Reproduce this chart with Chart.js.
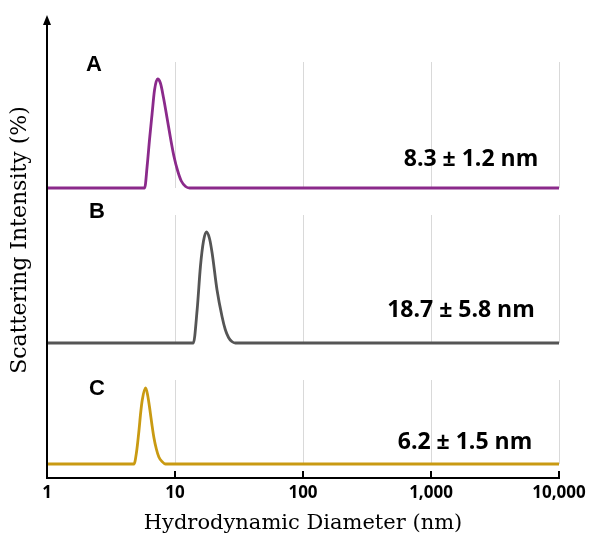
<!DOCTYPE html>
<html>
<head>
<meta charset="utf-8">
<script src="https://cdn.jsdelivr.net/npm/chart.js@4.4.1/dist/chart.umd.min.js"></script>
<style>
  html, body { margin: 0; padding: 0; background: #fff; }
  #wrap { width: 589px; height: 536px; }
</style>
</head>
<body>
<div id="wrap"><canvas id="dls"></canvas></div>
<script>
// hydrodynamic diameter (nm) and scattering intensity (%)
const sizeA = [1, 5.79, 6.06, 6.33, 6.62, 6.92, 7.31, 7.71, 8.14, 8.67, 9.22, 9.82, 10.5, 11.2, 12.1, 13.0, 10000];
const intA  = [0, 0, 4.4, 9.8, 14.8, 19.6, 21.8, 20.9, 18.0, 14.0, 10.0, 6.3, 3.4, 1.4, 0.3, 0, 0];

const sizeB = [1, 13.9, 14.9, 15.8, 16.7, 17.6, 18.6, 19.5, 21.3, 23.3, 24.7, 26.2, 27.8, 29.6, 10000];
const intB  = [0, 0, 6.7, 15.3, 20.4, 22.2, 20.9, 18.0, 10.6, 5.3, 2.7, 1.1, 0.3, 0, 0];

const sizeC = [1, 4.78, 5.0, 5.23, 5.39, 5.55, 5.89, 6.11, 6.37, 6.6, 6.84, 7.15, 7.48, 7.92, 8.43, 10000];
const intC  = [0, 0, 2.3, 6.7, 10.2, 12.8, 15.2, 13.8, 10.8, 7.9, 5.3, 3.0, 1.4, 0.5, 0, 0];

const panelLetters = ['A', 'B', 'C'];
const panelSizes = ['8.3 ± 1.2 nm', '18.7 ± 5.8 nm', '6.2 ± 1.5 nm'];
const panelColors = ['#8b2a8b', '#555555', '#c99a12'];
const xTicks = [1, 10, 100, 1000, 10000];
const gridTicks = [10, 100, 1000, 10000];

const toPoints = (xs, ys) => xs.map((x, i) => ({ x: x, y: ys[i] }));

// each panel has its own hidden y scale so the three traces sit one above another
const panels = [
    { axis: 'yA', min: -58, max: 34.6, gridTop: 25.2 },
    { axis: 'yB', min: -27, max: 65.6, gridTop: 25.6 },
    { axis: 'yC', min: -2.8, max: 89.8, gridTop: 16.8 }
];

const datasets = [
    toPoints(sizeA, intA),
    toPoints(sizeB, intB),
    toPoints(sizeC, intC)
].map((pts, i) => ({
    label: panelLetters[i],
    data: pts,
    yAxisID: panels[i].axis,
    borderColor: panelColors[i],
    borderWidth: 2.8,
    pointRadius: 0,
    cubicInterpolationMode: 'monotone',
    fill: false
}));

const panelDecor = {
    id: 'panelDecor',
    beforeDatasetsDraw(chart) {
        const ctx = chart.ctx;
        const xs = chart.scales.x;
        ctx.save();
        ctx.strokeStyle = '#d9d9d9';
        ctx.lineWidth = 1;
        panels.forEach(p => {
            const ys = chart.scales[p.axis];
            gridTicks.forEach(v => {
                const x = Math.round(xs.getPixelForValue(v)) + 0.5;
                ctx.beginPath();
                ctx.moveTo(x, ys.getPixelForValue(p.gridTop));
                ctx.lineTo(x, ys.getPixelForValue(0));
                ctx.stroke();
            });
        });
        ctx.restore();
    },
    afterDraw(chart) {
        const ctx = chart.ctx;
        const xs = chart.scales.x;
        const area = chart.chartArea;
        ctx.save();

        // y axis with arrow head
        ctx.strokeStyle = '#000';
        ctx.fillStyle = '#000';
        ctx.lineWidth = 2;
        ctx.beginPath();
        ctx.moveTo(area.left, area.bottom + 1);
        ctx.lineTo(area.left, area.top + 8);
        ctx.stroke();
        ctx.beginPath();
        ctx.moveTo(area.left, area.top);
        ctx.lineTo(area.left - 4, area.top + 10);
        ctx.lineTo(area.left + 4, area.top + 10);
        ctx.closePath();
        ctx.fill();

        // tick marks point up into the plot
        gridTicks.forEach(v => {
            const x = xs.getPixelForValue(v);
            ctx.beginPath();
            ctx.moveTo(x, area.bottom);
            ctx.lineTo(x, area.bottom - 7);
            ctx.stroke();
        });

        // y title
        ctx.translate(20, 240);
        ctx.rotate(-Math.PI / 2);
        ctx.font = '22px "DejaVu Serif"';
        ctx.textAlign = 'center';
        ctx.textBaseline = 'middle';
        ctx.fillText('Scattering Intensity (%)', 0, 0);
        ctx.restore();

        // panel letters and mean sizes
        ctx.save();
        ctx.fillStyle = '#000';
        ctx.textBaseline = 'middle';
        ctx.textAlign = 'center';
        const letterPos = [[94, 65], [97, 212], [97, 389]];
        const sizePos = [[471, 159], [461, 310], [465, 442]];
        panelLetters.forEach((t, i) => {
            ctx.font = 'bold 22px "Liberation Sans"';
            ctx.fillText(t, letterPos[i][0], letterPos[i][1]);
            ctx.font = 'bold 23px "Open Sans"';
            ctx.fillText(panelSizes[i], sizePos[i][0], sizePos[i][1]);
        });
        ctx.restore();
    }
};

const yScale = p => ({
    type: 'linear',
    display: false,
    min: p.min,
    max: p.max
});

new Chart(document.getElementById('dls'), {
    type: 'line',
    data: { datasets },
    options: {
        responsive: true,
        maintainAspectRatio: false,
        animation: false,
        layout: { padding: { left: 47, right: 30, top: 15, bottom: 0 } },
        plugins: { legend: { display: false }, tooltip: { enabled: false } },
        scales: {
            x: {
                type: 'logarithmic',
                min: 1,
                max: 10000,
                afterBuildTicks: scale => { scale.ticks = xTicks.map(v => ({ value: v })); },
                afterFit: scale => {
                    scale.height = 58;
                    scale.paddingLeft = 0;
                    scale.paddingRight = 0;
                },
                grid: { display: false, drawTicks: false },
                border: { display: true, color: '#000', width: 2 },
                ticks: {
                    color: '#000',
                    padding: 5,
                    maxRotation: 0,
                    font: { family: 'Open Sans', weight: 'bold', size: 17 },
                    callback: v => v.toLocaleString('en-US')
                },
                title: {
                    display: true,
                    text: 'Hydrodynamic Diameter (nm)',
                    color: '#000',
                    font: { family: 'DejaVu Serif', size: 21 },
                    padding: { top: 0, bottom: 0 }
                }
            },
            yA: yScale(panels[0]),
            yB: yScale(panels[1]),
            yC: yScale(panels[2])
        }
    },
    plugins: [panelDecor]
});
</script>
</body>
</html>
